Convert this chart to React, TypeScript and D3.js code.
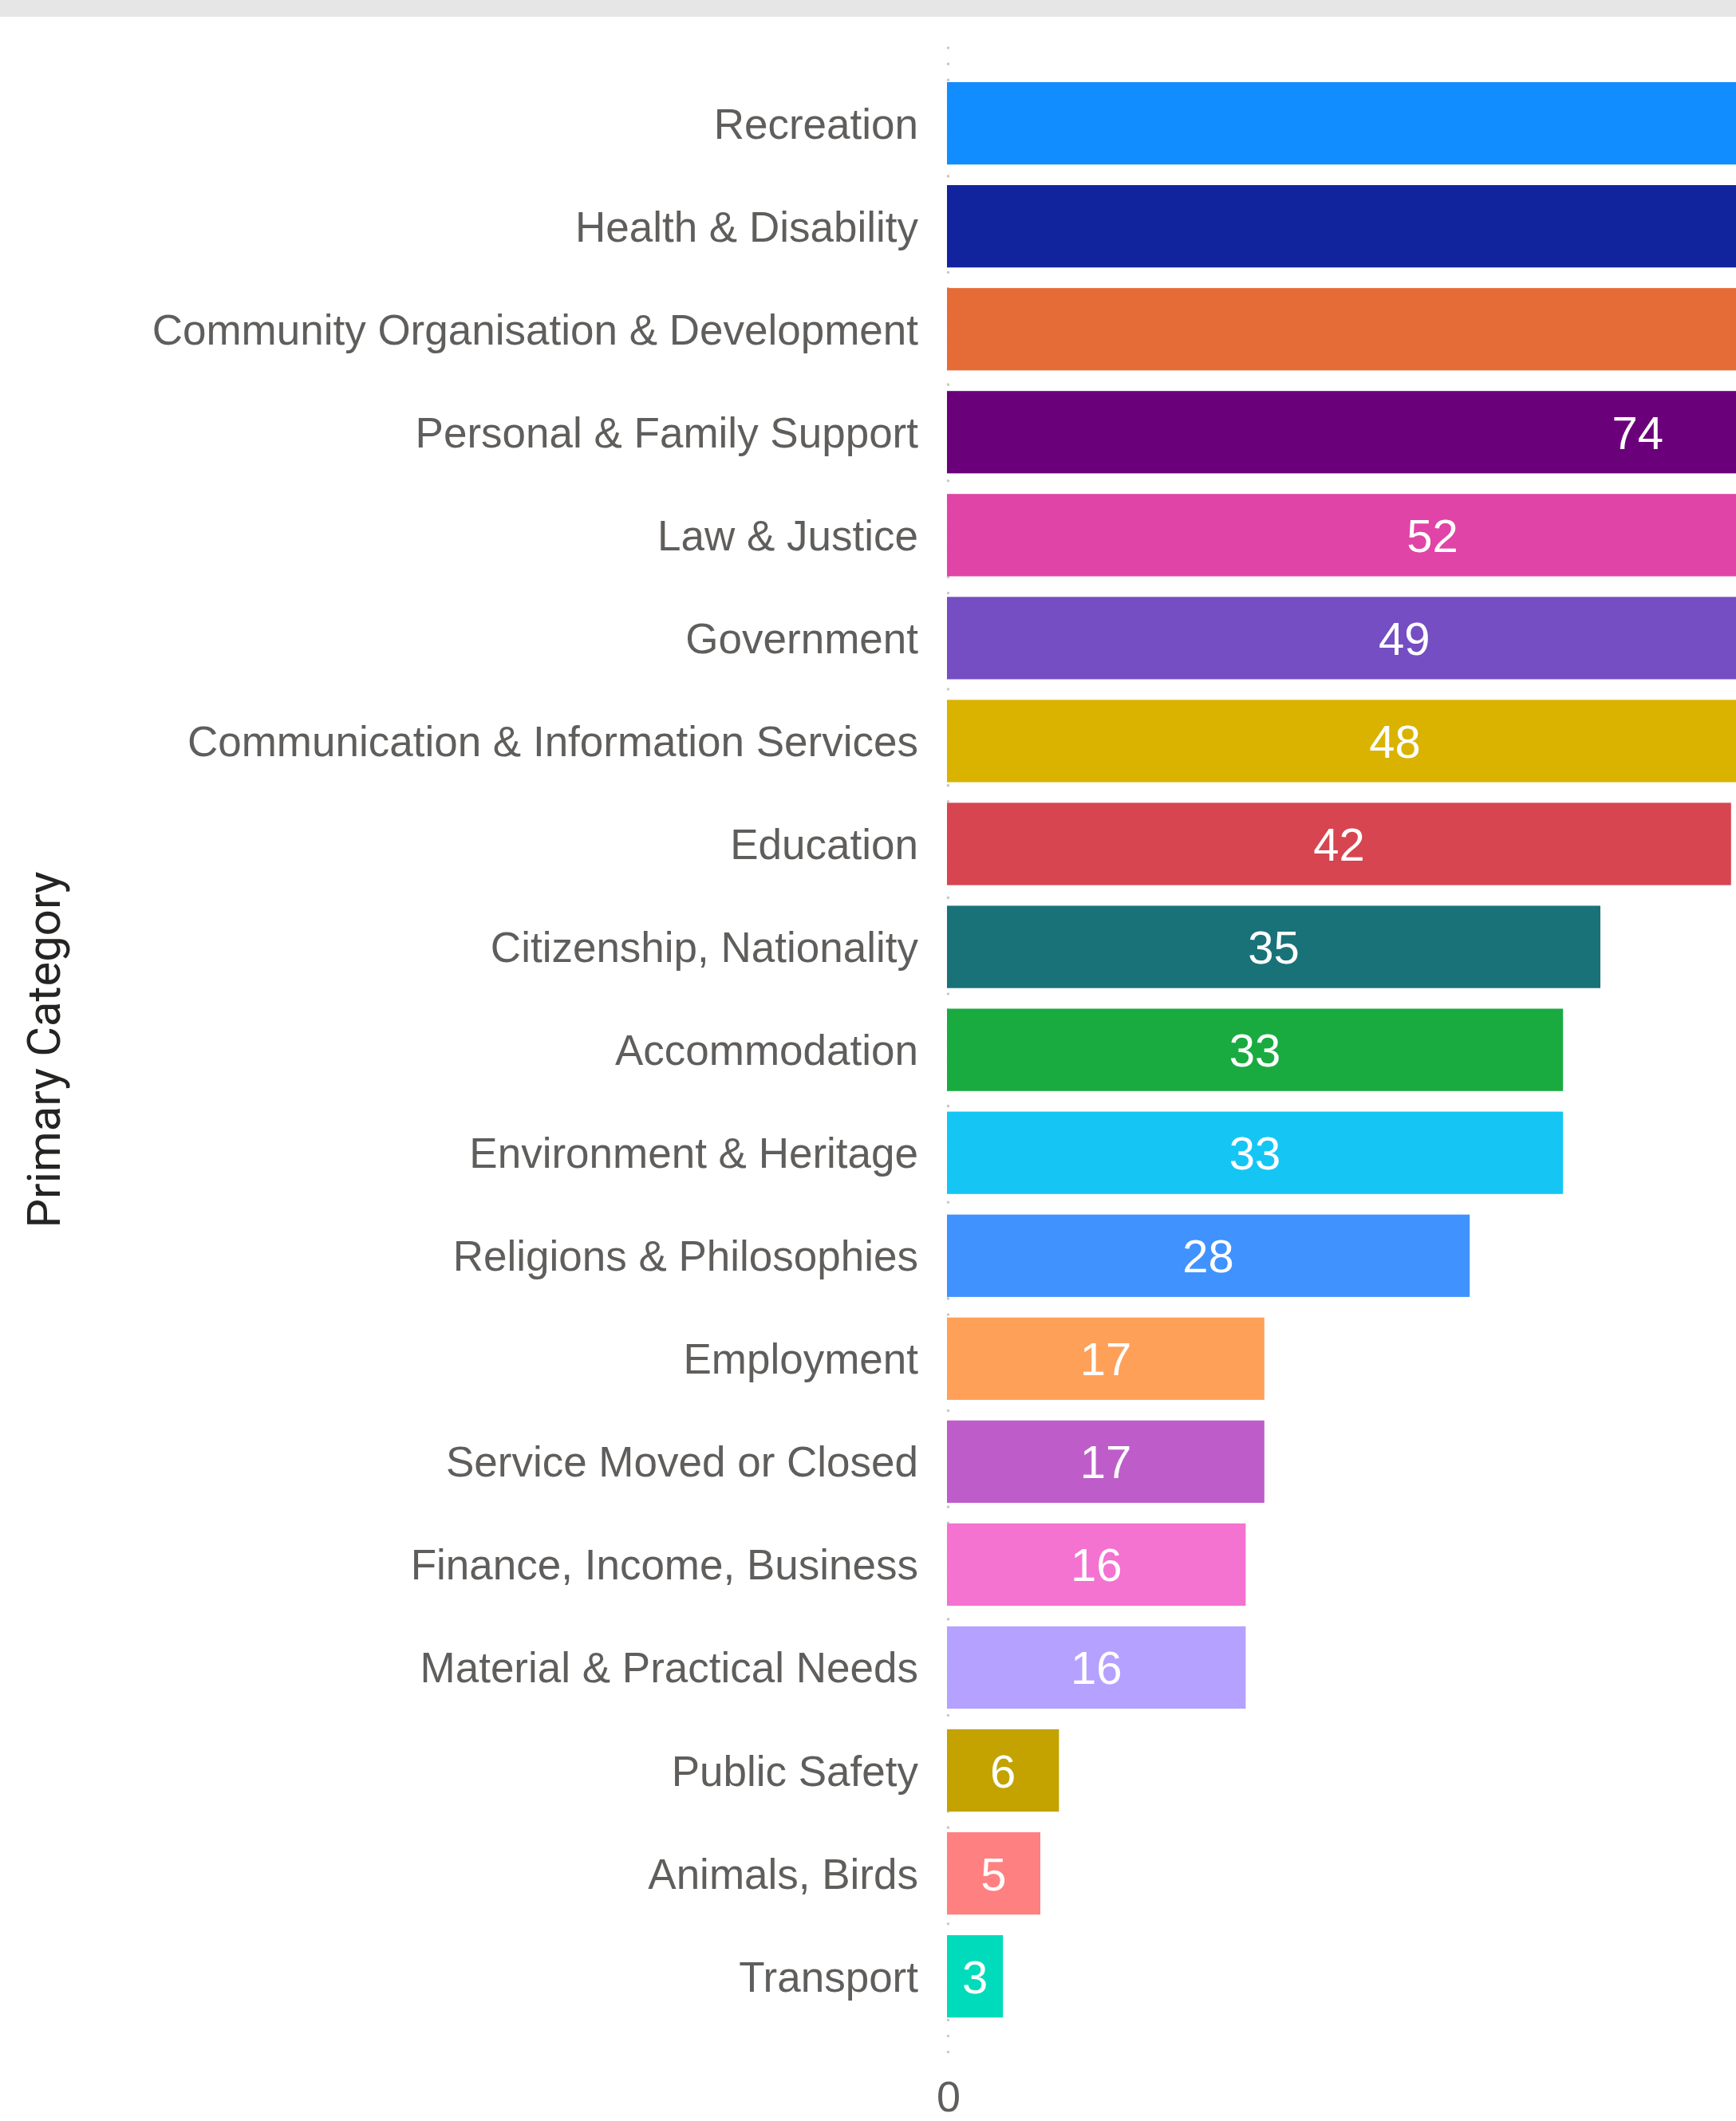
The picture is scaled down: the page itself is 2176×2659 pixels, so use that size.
import React from "react";
import * as d3 from "d3";

const categories = [
  "Recreation",
  "Health & Disability",
  "Community Organisation & Development",
  "Personal & Family Support",
  "Law & Justice",
  "Government",
  "Communication & Information Services",
  "Education",
  "Citizenship, Nationality",
  "Accommodation",
  "Environment & Heritage",
  "Religions & Philosophies",
  "Employment",
  "Service Moved or Closed",
  "Finance, Income, Business",
  "Material & Practical Needs",
  "Public Safety",
  "Animals, Birds",
  "Transport",
];

// top three values run past the visible (cropped) area; estimated
const counts = [121, 105, 92, 74, 52, 49, 48, 42, 35, 33, 33, 28, 17, 17, 16, 16, 6, 5, 3];

const colors = [
  "#118DFF", "#12239E", "#E66C37", "#6B007B", "#E044A7", "#744EC2", "#D9B300",
  "#D64550", "#197278", "#1AAB40", "#15C6F4", "#4092FF", "#FFA058", "#BE5DC9",
  "#F472D0", "#B5A1FF", "#C4A200", "#FF8080", "#00DBBC",
];

const xTicks = [0];
const yTitle = "Primary Category";

const W = 2176;
const H = 2659;

export default function App() {
  const x0 = 1187;
  const x = d3.scaleLinear().domain([0, 100]).range([x0, x0 + 2340]);
  const y = d3
    .scaleBand<string>()
    .domain(categories)
    .range([90.1, 2542.2])
    .paddingInner(0.2)
    .paddingOuter(0.1);
  const bw = y.bandwidth();
  const labelFont = "'Liberation Sans', Arial, sans-serif";

  return (
    <svg
      width={W}
      height={H}
      style={{ position: "absolute", left: 0, top: 0, background: "#fff" }}
    >
      <rect x={0} y={0} width={W} height={21} fill="#E6E6E6" />
      {/* zero gridline */}
      <line
        x1={x(0) + 1.5}
        x2={x(0) + 1.5}
        y1={60}
        y2={2584}
        stroke="#C8C8C8"
        strokeWidth={3.5}
        strokeLinecap="round"
        strokeDasharray="0.1 20"
      />
      {categories.map((c, i) => {
        const yy = y(c)!;
        const xe = x(counts[i]);
        const lx = (x(0) + xe) / 2;
        return (
          <g key={c}>
            <rect x={x(0)} y={yy} width={xe - x(0)} height={bw} fill={colors[i]} />
            <text
              x={x0 - 36}
              y={yy + bw / 2 + 19}
              textAnchor="end"
              fontFamily={labelFont}
              fontSize={53}
              fill="#605E5C"
            >
              {c}
            </text>
            {lx + 40 < W && (
              <text
                x={lx}
                y={yy + bw / 2 + 21}
                textAnchor="middle"
                fontFamily={labelFont}
                fontSize={58}
                fill="#FFFFFF"
              >
                {counts[i]}
              </text>
            )}
          </g>
        );
      })}
      {xTicks.map((t) => (
        <text
          key={t}
          x={x(t) + 2}
          y={2647}
          textAnchor="middle"
          fontFamily={labelFont}
          fontSize={54}
          fill="#605E5C"
        >
          {t}
        </text>
      ))}
      <text
        transform={`translate(75, 1316) rotate(-90)`}
        textAnchor="middle"
        fontFamily="Roboto, 'Noto Sans', sans-serif"
        fontSize={58}
        fill="#252423"
      >
        {yTitle}
      </text>
    </svg>
  );
}
